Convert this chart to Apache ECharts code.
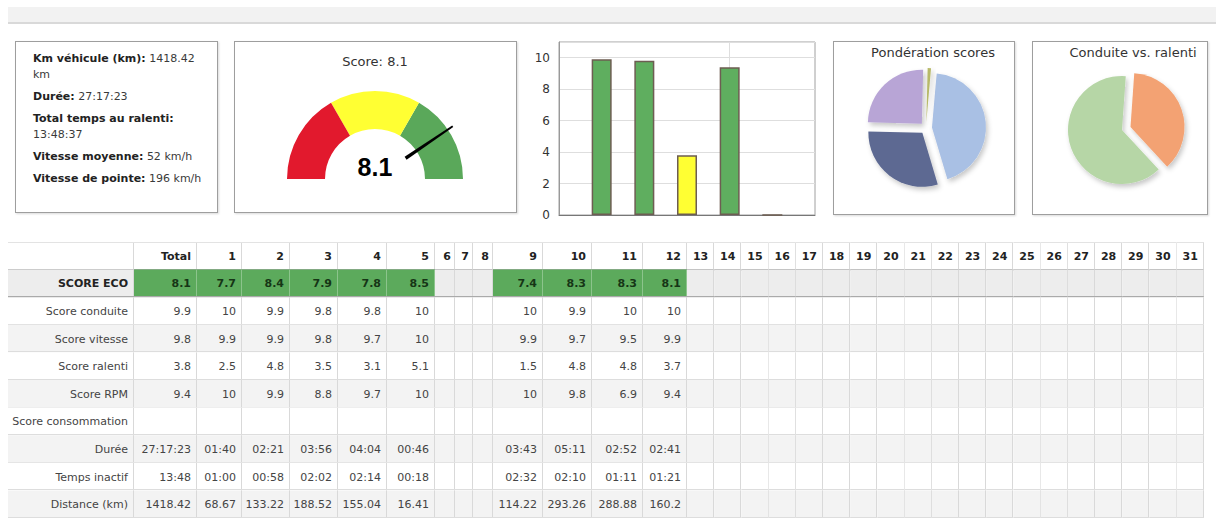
<!DOCTYPE html>
<html>
<head>
<meta charset="utf-8">
<script src="https://cdn.jsdelivr.net/npm/echarts@6/dist/echarts.min.js"></script>
<style>
html,body{margin:0;padding:0;background:#fff;width:1216px;height:518px;overflow:hidden;font-family:"DejaVu Sans",sans-serif;}
#topbar{position:absolute;left:8px;top:7px;width:1208px;height:15px;background:#f2f2f2;border-bottom:2px solid #d9d9d9;}
.box{position:absolute;border:1px solid #9e9e9e;box-shadow:1px 1px 2px rgba(0,0,0,0.15);background:#fff;box-sizing:border-box;}
#info{left:15px;top:41px;width:203px;height:172px;padding:9px 6px 0 17px;font-size:11px;color:#3a3a3a;line-height:16px;}
#info p{margin:0 0 6px 0;}
#info b{color:#222;}
#chart{position:absolute;left:0;top:0;width:1216px;height:518px;}
</style>
</head>
<body>
<div id="topbar"></div>
<div class="box" id="info"></div>
<div class="box" style="left:234px;top:41px;width:283px;height:172px;"></div>
<div class="box" style="left:833px;top:41px;width:182px;height:174px;"></div>
<div class="box" style="left:1032px;top:41px;width:176px;height:174px;"></div>
<div id="chart"></div>
<script>
// ---------------- DATA ----------------
const infoLabels = ['Km véhicule (km):', 'Durée:', 'Total temps au ralenti:', 'Vitesse moyenne:', 'Vitesse de pointe:'];
const infoValues = ['1418.42 km', '27:17:23', '13:48:37', '52 km/h', '196 km/h'];

const gaugeTitle = 'Score';
const gaugeScore = 8.1;
const scoreThresholds = [10 / 3, 20 / 3];

const barCategories = ['', 'Score conduite', 'Score vitesse', 'Score ralenti', 'Score RPM', 'Score consommation', ''];
const barValues = [null, 9.9, 9.8, 3.8, 9.4, 0, null];
const barTickLabels = ['0', '2', '4', '6', '8', '10'];

const pie1Title = 'Pondération scores';
const pie1Names = ['Score conduite', 'Score vitesse', 'Score ralenti', 'Score RPM'];
const pie1Values = [44, 30, 25, 1];

const pie2Title = 'Conduite vs. ralenti';
const pie2Names = ['Ralenti', 'Conduite'];
const pie2Values = [37, 63];

const columns = ['Total', '1', '2', '3', '4', '5', '6', '7', '8', '9', '10', '11', '12', '13', '14', '15', '16',
  '17', '18', '19', '20', '21', '22', '23', '24', '25', '26', '27', '28', '29', '30', '31'];
const rowLabels = ['SCORE ECO', 'Score conduite', 'Score vitesse', 'Score ralenti', 'Score RPM',
  'Score consommation', 'Durée', 'Temps inactif', 'Distance (km)'];
const filledColumns = ['Total', '1', '2', '3', '4', '5', '9', '10', '11', '12'];
const scoreEco = [8.1, 7.7, 8.4, 7.9, 7.8, 8.5, 7.4, 8.3, 8.3, 8.1];
const scoreConduite = [9.9, 10, 9.9, 9.8, 9.8, 10, 10, 9.9, 10, 10];
const scoreVitesse = [9.8, 9.9, 9.9, 9.8, 9.7, 10, 9.9, 9.7, 9.5, 9.9];
const scoreRalenti = [3.8, 2.5, 4.8, 3.5, 3.1, 5.1, 1.5, 4.8, 4.8, 3.7];
const scoreRPM = [9.4, 10, 9.9, 8.8, 9.7, 10, 10, 9.8, 6.9, 9.4];
const scoreConsommation = [null, null, null, null, null, null, null, null, null, null];
const duree = ['27:17:23', '01:40', '02:21', '03:56', '04:04', '00:46', '03:43', '05:11', '02:52', '02:41'];
const tempsInactif = ['13:48', '01:00', '00:58', '02:02', '02:14', '00:18', '02:32', '02:10', '01:11', '01:21'];
const distance = [1418.42, 68.67, 133.22, 188.52, 155.04, 16.41, 114.22, 293.26, 288.88, 160.2];

// ---------------- INFO BOX ----------------
const info = document.getElementById('info');
infoLabels.forEach(function (lab, i) {
  const p = document.createElement('p');
  const b = document.createElement('b');
  b.textContent = lab;
  p.appendChild(b);
  infoValues[i].split(' ').forEach(function (word) {
    p.appendChild(document.createTextNode(' '));
    const s = document.createElement('span');
    s.textContent = word;
    p.appendChild(s);
  });
  info.appendChild(p);
});

// ---------------- STYLE / LAYOUT ----------------
const FONT = 'DejaVu Sans';
const RED = '#e2192d', YELLOW = '#ffff33', GREEN = '#5aa85a';
function scoreColor(v) {
  if (v >= scoreThresholds[1]) return '#5fae5f';
  if (v >= scoreThresholds[0]) return YELLOW;
  return RED;
}
// table column widths (layout)
const colWidths = [126, 63, 45, 48, 48, 49, 48, 20, 18, 20, 50, 49, 51, 44];
while (colWidths.length < columns.length + 1) colWidths.push(27.2);
const colEdges = [0];
colWidths.forEach(function (w) { colEdges.push(colEdges[colEdges.length - 1] + w); });
const tableWidth = colEdges[colEdges.length - 1];

const rowValues = [scoreEco, scoreConduite, scoreVitesse, scoreRalenti, scoreRPM, scoreConsommation, duree, tempsInactif, distance];
const tableRowKeys = ['header'].concat(rowLabels);

const cells = [];
for (let r = 0; r < tableRowKeys.length; r++) {
  for (let c = 0; c <= columns.length; c++) {
    let text = '', kind = 'body';
    if (r === 0) {
      text = c === 0 ? '' : columns[c - 1];
      kind = 'header';
    } else if (c === 0) {
      text = rowLabels[r - 1];
      kind = r === 1 ? 'ecoLabel' : 'label';
    } else {
      const k = filledColumns.indexOf(columns[c - 1]);
      const v = k >= 0 ? rowValues[r - 1][k] : null;
      text = v == null ? '' : String(v);
      if (r === 1) kind = v == null ? 'ecoEmpty' : 'eco';
    }
    cells.push({ col: c, row: r, text: text, kind: kind });
  }
}

function renderCell(params, api) {
  const cell = cells[params.dataIndex];
  const c = cell.col, r = cell.row;
  const xa = api.coord([colEdges[c], r])[0];
  const xb = api.coord([colEdges[c + 1], r])[0];
  const yc = api.coord([0, r])[1];
  const h = api.size([0, 1])[1];
  const y0 = yc - h / 2, y1 = yc + h / 2;
  let bg = '#ffffff';
  if (r === 1) bg = cell.kind === 'eco' ? '#5caa5c' : '#ededed';
  else if (r >= 2 && r % 2 === 1) bg = '#f3f3f3';
  const children = [];
  children.push({ type: 'rect', shape: { x: xa, y: y0, width: xb - xa, height: h }, style: { fill: bg } });
  const rx = Math.round(xb) - 0.5;
  children.push({ type: 'line', shape: { x1: rx, y1: y0, x2: rx, y2: y1 },
    style: { stroke: cell.kind === 'eco' ? '#8cc48c' : '#d9d9d9', lineWidth: 1 } });
  if (r <= 1) {
    const by = Math.round(y1);
    children.push({ type: 'line', shape: { x1: xa, y1: by, x2: xb, y2: by }, style: { stroke: '#aaaaaa', lineWidth: 2 } });
  } else {
    const by = Math.round(y1) - 0.5;
    children.push({ type: 'line', shape: { x1: xa, y1: by, x2: xb, y2: by }, style: { stroke: '#dddddd', lineWidth: 1 } });
  }
  if (r === 0) {
    const ty = Math.round(y0) + 0.5;
    children.push({ type: 'line', shape: { x1: xa, y1: ty, x2: xb, y2: ty }, style: { stroke: '#e3e3e3', lineWidth: 1 } });
  }
  if (cell.text) {
    const w = xb - xa;
    const pad = w < 24 ? 4 : 6;
    const bold = cell.kind === 'header' || cell.kind === 'ecoLabel' || cell.kind === 'eco';
    let fill = '#444';
    if (cell.kind === 'header' || cell.kind === 'ecoLabel') fill = '#222';
    if (cell.kind === 'eco') fill = '#163516';
    children.push({ type: 'text', style: { text: cell.text, x: xb - pad, y: yc + 0.5, align: 'right', verticalAlign: 'middle',
      fontSize: 11, fontFamily: FONT, fontWeight: bold ? 'bold' : 'normal', fill: fill } });
  }
  return { type: 'group', children: children };
}

// ---------------- CHART ----------------
const chart = echarts.init(document.getElementById('chart'), null, { renderer: 'svg', width: 1216, height: 518 });
const titleStyle = { fontSize: 13, fontWeight: 'normal', color: '#333', fontFamily: FONT };
const pieShadow = { shadowBlur: 5, shadowOffsetX: 2, shadowOffsetY: 3, shadowColor: 'rgba(0,0,0,0.22)' };
chart.setOption({
  animation: false,
  backgroundColor: 'transparent',
  title: [
    { text: gaugeTitle + ': ' + gaugeScore.toFixed(1), left: 375, top: 55, textAlign: 'center', padding: 0, textStyle: titleStyle },
    { text: pie1Title, left: 933, top: 46, textAlign: 'center', padding: 0, textStyle: titleStyle },
    { text: pie2Title, left: 1133, top: 46, textAlign: 'center', padding: 0, textStyle: titleStyle }
  ],
  grid: [
    { left: 559, top: 42, width: 256, height: 173, show: true, borderColor: '#a0a0a0', borderWidth: 1, backgroundColor: '#fff', containLabel: false, outerBoundsMode: 'none' },
    { left: 8, top: 242, width: tableWidth, height: 276, containLabel: false, outerBoundsMode: 'none' }
  ],
  xAxis: [
    { gridIndex: 0, type: 'category', data: barCategories, boundaryGap: false,
      axisLine: { show: true, lineStyle: { color: '#777', width: 1 } }, axisTick: { show: false }, axisLabel: { show: false },
      splitLine: { show: true, lineStyle: { color: '#dedede' } } },
    { gridIndex: 1, type: 'value', min: 0, max: tableWidth, show: false }
  ],
  yAxis: [
    { gridIndex: 0, type: 'value', min: 0, max: 11, interval: 2,
      axisLine: { show: true, lineStyle: { color: '#999' } }, axisTick: { show: false },
      axisLabel: { color: '#333', fontSize: 12, fontFamily: FONT, margin: 9, showMaxLabel: false,
        formatter: function (v) { const i = v / 2; return barTickLabels[i] !== undefined ? barTickLabels[i] : ''; } },
      splitLine: { show: true, lineStyle: { color: '#dedede' } } },
    { gridIndex: 1, type: 'category', data: tableRowKeys, inverse: true, show: false }
  ],
  series: [
    {
      type: 'gauge', center: [375, 179], radius: 88, startAngle: 180, endAngle: 0, min: 0, max: 10,
      axisLine: { lineStyle: { width: 38, color: [[scoreThresholds[0] / 10, RED], [scoreThresholds[1] / 10, YELLOW], [1, GREEN]] } },
      axisTick: { show: false }, splitLine: { show: false }, axisLabel: { show: false },
      pointer: { show: true, icon: 'path://M0.7 0 L2.3 0 L3 1 L0 1 Z', width: 3.5, length: 57, offsetCenter: [0, -37], itemStyle: { color: '#000' } },
      anchor: { show: false }, title: { show: false },
      detail: { show: true, offsetCenter: [0, -12], fontSize: 25, fontWeight: 'bold', fontFamily: 'Liberation Sans', color: '#000',
        formatter: function (v) { return v.toFixed(1); } },
      data: [{ value: gaugeScore, name: gaugeTitle }]
    },
    {
      type: 'bar', xAxisIndex: 0, yAxisIndex: 0, barWidth: 20,
      itemStyle: { borderColor: '#6d5d52', borderWidth: 1.5 },
      emphasis: { disabled: true },
      data: barValues.map(function (v) { return v == null ? null : { value: v, itemStyle: { color: scoreColor(v) } }; })
    },
    {
      type: 'pie', center: [926, 128], radius: 54, startAngle: 85, clockwise: true,
      selectedMode: 'multiple', selectedOffset: 6, label: { show: false }, labelLine: { show: false },
      emphasis: { disabled: true },
      itemStyle: pieShadow,
      select: { itemStyle: Object.assign({ borderWidth: 0 }, pieShadow) },
      color: ['#a9c0e4', '#5d6992', '#b8a5d6', '#b7b968'],
      data: pie1Names.map(function (n, i) { return { name: n, value: pie1Values[i], selected: true }; })
    },
    {
      type: 'pie', center: [1122, 130], radius: 54, startAngle: 86, clockwise: true,
      selectedMode: 'multiple', selectedOffset: 9, label: { show: false }, labelLine: { show: false },
      emphasis: { disabled: true },
      itemStyle: pieShadow,
      select: { itemStyle: Object.assign({ borderWidth: 0 }, pieShadow) },
      color: ['#f3a273', '#b6d6a6'],
      data: pie2Names.map(function (n, i) { return { name: n, value: pie2Values[i], selected: i === 0 }; })
    },
    {
      type: 'custom', xAxisIndex: 1, yAxisIndex: 1, renderItem: renderCell, silent: true,
      encode: { x: 0, y: 1 },
      data: cells.map(function (c) { return [c.col, c.row]; })
    }
  ]
});
</script>
</body>
</html>
